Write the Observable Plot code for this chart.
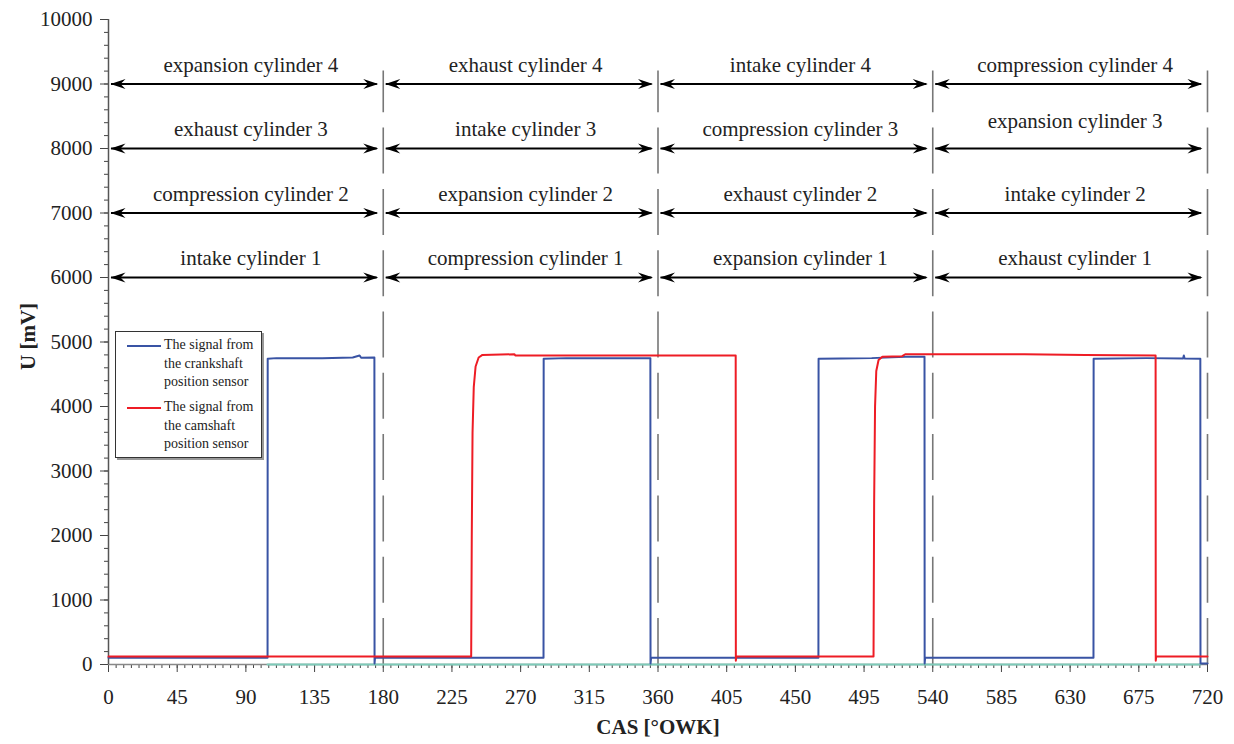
<!DOCTYPE html>
<html>
<head>
<meta charset="utf-8">
<script src="https://cdn.jsdelivr.net/npm/d3@7"></script>
<script src="https://cdn.jsdelivr.net/npm/@observablehq/plot@0.6"></script>
<style>
  html, body { margin: 0; padding: 0; background: #fff; }
  #wrap { position: relative; width: 1234px; height: 744px; font-family: "Liberation Serif", "Times New Roman", serif; }
  #legend { position: absolute; left: 115px; top: 331px; width: 145px; height: 125px; border: 1px solid #333; background: #fff; box-shadow: 2px 2px 0 #999; }
  .swatch { position: absolute; left: 11px; width: 34px; height: 2px; }
  .ltext { position: absolute; left: 48px; font-size: 14px; line-height: 18.7px; color: #222; white-space: nowrap; }
</style>
</head>
<body>
<div id="wrap">
  <div id="chart"></div>
  <div id="legend"></div>
</div>
<script>
// ---- data ----
const xTicks = d3.range(0, 721, 45);
const yTicks = d3.range(0, 10001, 1000);
const boundaries = [180, 360, 540, 720];

// stroke phases: row (mV level of the arrow), start/end in °CA, label
const phaseRows = [9000, 8000, 7000, 6000];
const phaseStarts = [0, 180, 360, 540];
const phaseLabels = [
  ["expansion cylinder 4", "exhaust cylinder 4", "intake cylinder 4", "compression cylinder 4"],
  ["exhaust cylinder 3", "intake cylinder 3", "compression cylinder 3", "expansion cylinder 3"],
  ["compression cylinder 2", "expansion cylinder 2", "exhaust cylinder 2", "intake cylinder 2"],
  ["intake cylinder 1", "compression cylinder 1", "expansion cylinder 1", "exhaust cylinder 1"]
];

// crankshaft position sensor signal [°CA, mV]
const crankshaft = [
  [0, 105], [104.2, 105], [104.3, 4740], [110, 4750], [140, 4750], [160, 4760], [164.5, 4790], [165.5, 4755],
  [174.2, 4760], [174.3, 15], [174.6, 105],
  [285.0, 105], [285.1, 4740], [300, 4750], [355.0, 4750], [355.1, 15], [355.5, 105],
  [465.1, 105], [465.2, 4740], [480, 4745], [500, 4750], [522, 4770], [534.6, 4770], [534.7, 15], [535.0, 105],
  [645.3, 105], [645.4, 4740], [680, 4750], [704, 4745], [704.5, 4790], [705, 4745], [715.3, 4740], [715.4, 15], [720, 15]
];

// camshaft position sensor signal [°CA, mV]
const camshaft = [
  [0, 125], [237.6, 125], [238.0, 2000], [238.5, 3600], [239.3, 4300], [240.5, 4620], [242.5, 4760], [245, 4800],
  [266, 4810], [266.5, 4790], [410.9, 4790], [411.0, 60], [411.3, 125],
  [501.2, 125], [501.6, 2500], [502.2, 4000], [503.0, 4550], [504.5, 4720], [507, 4770], [520, 4780], [522, 4810],
  [600, 4810], [640, 4800], [686.0, 4790], [686.1, 60], [686.4, 125], [720, 125]
];

// third trace along zero [°CA, mV]
const zeroTrace = [[104.2, 0], [715.4, 0]];

const seriesNames = ["The signal from the crankshaft position sensor", "The signal from the camshaft position sensor"];
const seriesColors = ["#3953a4", "#ee1c25"];

// ---- build ----
const segs = [];
phaseRows.forEach((row, i) => phaseStarts.forEach((s, j) => segs.push({row, start: s, end: s + 180, label: phaseLabels[i][j]})));

const headRight = {draw(ctx) { ctx.moveTo(0, 0); ctx.lineTo(-15, -5); ctx.lineTo(-10, 0); ctx.lineTo(-15, 5); ctx.closePath(); }};
const headLeft = {draw(ctx) { ctx.moveTo(0, 0); ctx.lineTo(15, -5); ctx.lineTo(10, 0); ctx.lineTo(15, 5); ctx.closePath(); }};

const font = "Liberation Serif";
const fmt = d => String(d);
const chart = Plot.plot({
  width: 1234,
  height: 744,
  marginLeft: 108,
  marginRight: 27,
  marginTop: 19,
  marginBottom: 80,
  x: {domain: [0, 720]},
  y: {domain: [0, 10000]},
  style: {fontFamily: font, fontSize: "21px", color: "#222", background: "#fff", overflow: "visible"},
  marks: [
    // boundaries (dashed)
    Plot.ruleX(boundaries, {x: d => d, y1: 0, y2: 9200, stroke: "#777", strokeWidth: 1.6, strokeDasharray: "46,15.3"}),
    // phase arrows
    Plot.ruleY(segs, {y: "row", x1: "start", x2: "end", stroke: "#000", strokeWidth: 2, insetLeft: 3, insetRight: 6}),
    Plot.dot(segs, {x: "start", y: "row", symbol: headLeft, fill: "#000", stroke: "none", dx: 2}),
    Plot.dot(segs, {x: "end", y: "row", symbol: headRight, fill: "#000", stroke: "none", dx: -5}),
    Plot.text(segs.filter(d => d.label !== "expansion cylinder 3"), {x: d => (d.start + d.end) / 2, y: "row", text: "label", dy: -19, dx: 5, fontSize: 21, fill: "#222"}),
    Plot.text(segs.filter(d => d.label === "expansion cylinder 3"), {x: d => (d.start + d.end) / 2, y: "row", text: "label", dy: -27, dx: 5, fontSize: 21, fill: "#222"}),
    // axes
    Plot.axisY({ticks: d3.range(0, 10001, 200), tickSize: 4, tickFormat: () => "", label: null, stroke: "#444"}),
    Plot.axisY({ticks: yTicks, tickSize: 8, tickPadding: 8, tickFormat: fmt, label: null, fontSize: 21, stroke: "#444", fill: "#222"}),
    Plot.axisX({ticks: d3.range(0, 721, 5), tickSize: 4, tickFormat: () => "", label: null, stroke: "#444"}),
    Plot.axisX({ticks: xTicks, tickSize: 8, tickPadding: 17, tickFormat: fmt, label: null, fontSize: 21, stroke: "#444", fill: "#222"}),
    Plot.ruleY([0], {stroke: "#888", strokeWidth: 1.5}),
    Plot.ruleX([0], {y1: 0, y2: 10000, stroke: "#555", strokeWidth: 1.5}),
    // signals
    Plot.line(zeroTrace, {stroke: "#7dcab8", strokeWidth: 2}),
    Plot.line(crankshaft, {stroke: seriesColors[0], strokeWidth: 2}),
    Plot.line(camshaft, {stroke: seriesColors[1], strokeWidth: 2}),
    // axis titles
    Plot.text(["CAS [°OWK]"], {frameAnchor: "bottom", dy: 69, fontWeight: "bold", fontSize: 21, fill: "#222"}),
    Plot.text(["U [mV]"], {frameAnchor: "left", dx: -80, dy: 28, rotate: -90, fontWeight: "bold", fontSize: 21, fill: "#222"})
  ]
});
document.getElementById("chart").appendChild(chart);

// legend
const legend = document.getElementById("legend");
const wrapLines = [["The signal from", "the crankshaft", "position sensor"], ["The signal from", "the camshaft", "position sensor"]];
seriesNames.forEach((name, i) => {
  const top = 4 + i * 62;
  const sw = document.createElement("div");
  sw.className = "swatch";
  sw.style.top = (top + 9) + "px";
  sw.style.background = seriesColors[i];
  legend.appendChild(sw);
  const t = document.createElement("div");
  t.className = "ltext";
  t.style.top = top + "px";
  t.innerHTML = wrapLines[i].join("<br>");
  t.title = name;
  legend.appendChild(t);
});
</script>
</body>
</html>
